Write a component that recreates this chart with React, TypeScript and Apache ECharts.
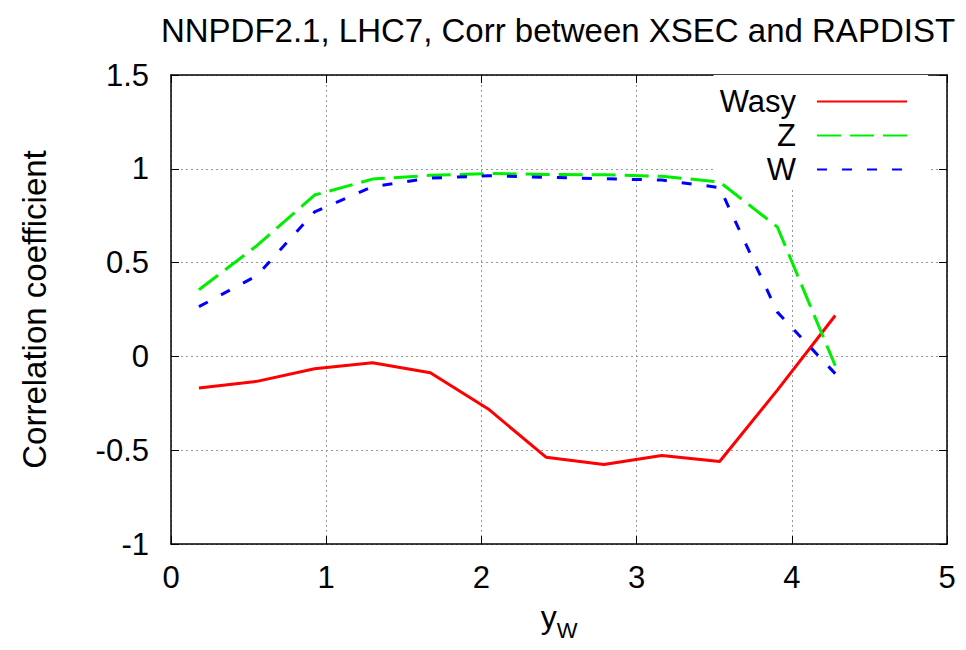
import React, { useEffect, useRef } from "react";
import * as echarts from "echarts";

const yW = [0.18, 0.553, 0.925, 1.298, 1.671, 2.044, 2.416, 2.789, 3.162, 3.535, 3.907, 4.28];
const wasyCorr = [-0.169, -0.133, -0.066, -0.034, -0.087, -0.28, -0.537, -0.576, -0.528, -0.56, -0.18, 0.218];
const zCorr = [0.355, 0.59, 0.86, 0.945, 0.965, 0.975, 0.97, 0.968, 0.96, 0.93, 0.69, -0.05];
const wCorr = [0.265, 0.43, 0.77, 0.905, 0.95, 0.963, 0.955, 0.947, 0.94, 0.9, 0.236, -0.092];
const seriesNames = ["Wasy", "Z", "W"];
const titleText = "NNPDF2.1, LHC7, Corr between XSEC and RAPDIST";
const yAxisName = "Correlation coefficient";

const FONT = "'Liberation Sans', Arial, Helvetica, sans-serif";

function pairs(ys: number[]) {
  return yW.map((x, i) => [x, ys[i]]);
}

export default function App() {
  const ref = useRef<HTMLDivElement>(null);
  useEffect(() => {
    if (!ref.current) return;
    const chart = echarts.init(ref.current, undefined, { renderer: "svg" });
    const axisLine = { show: true, onZero: false, lineStyle: { color: "#000", width: 1.5 } };
    const tick = { show: true, inside: true, length: 8, lineStyle: { color: "#000", width: 1 } };
    const split = { show: true, lineStyle: { type: [2, 3], color: "#999", width: 1 } };
    chart.setOption({
      animation: false,
      backgroundColor: "#fff",
      textStyle: { fontFamily: FONT },
      graphic: [
        {
          type: "text",
          x: 558,
          y: 30,
          style: {
            text: titleText,
            fontSize: 33,
            fontFamily: FONT,
            fill: "#000",
            align: "center",
            verticalAlign: "middle",
          },
        },
      ],
      grid: { left: 171, right: 19, top: 75, bottom: 106, containLabel: false },
      legend: {
        orient: "vertical",
        right: 38,
        top: 75,
        align: "right",
        itemWidth: 90,
        itemHeight: 14,
        itemGap: 3,
        padding: [11, 20, 3, 6],
        backgroundColor: "#fff",
        itemStyle: { opacity: 0, color: "transparent", borderWidth: 0 },
        textStyle: { fontSize: 31, color: "#000", fontFamily: FONT, lineHeight: 31, padding: [0, 16, 0, 0] },
        data: seriesNames,
        z: 3,
      },
      xAxis: [
        {
          type: "value",
          min: 0,
          max: 5,
          interval: 1,
          position: "bottom",
          axisLine,
          axisTick: tick,
          axisLabel: { fontSize: 31, color: "#000", margin: 18, fontFamily: FONT },
          splitLine: split,
          name: "{a|y}{b|W}",
          nameLocation: "middle",
          nameGap: 57,
          nameTextStyle: {
            color: "#000",
            rich: {
              a: { fontSize: 32, fontFamily: FONT, color: "#000", lineHeight: 40, verticalAlign: "top" },
              b: { fontSize: 22, fontFamily: FONT, color: "#000", lineHeight: 22, verticalAlign: "bottom" },
            },
          },
        },
        {
          type: "value",
          min: 0,
          max: 5,
          interval: 1,
          position: "top",
          axisLine,
          axisTick: tick,
          axisLabel: { show: false },
          splitLine: { show: false },
        },
      ],
      yAxis: [
        {
          type: "value",
          min: -1,
          max: 1.5,
          interval: 0.5,
          position: "left",
          axisLine,
          axisTick: tick,
          axisLabel: { fontSize: 31, color: "#000", margin: 22, fontFamily: FONT },
          splitLine: split,
          name: yAxisName,
          nameLocation: "middle",
          nameGap: 120,
          nameTextStyle: { fontSize: 33, color: "#000", fontFamily: FONT },
        },
        {
          type: "value",
          min: -1,
          max: 1.5,
          interval: 0.5,
          position: "right",
          axisLine,
          axisTick: tick,
          axisLabel: { show: false },
          splitLine: { show: false },
        },
      ],
      series: [
        {
          name: seriesNames[0],
          type: "line",
          data: pairs(wasyCorr),
          symbol: "none",
          color: "#ff0000",
          lineStyle: { color: "#ff0000", width: 3, type: "solid" },
        },
        {
          name: seriesNames[1],
          type: "line",
          data: pairs(zCorr),
          symbol: "none",
          color: "#00ee00",
          lineStyle: { color: "#00ee00", width: 3, type: [24, 9] },
        },
        {
          name: seriesNames[2],
          type: "line",
          data: pairs(wCorr),
          symbol: "none",
          color: "#0000ff",
          lineStyle: { color: "#0000ff", width: 3, type: [10, 15] },
        },
      ],
    });
    return () => chart.dispose();
  }, []);
  return (
    <div
      ref={ref}
      style={{ position: "fixed", left: 0, top: 0, width: 966, height: 650, background: "#fff" }}
    />
  );
}
